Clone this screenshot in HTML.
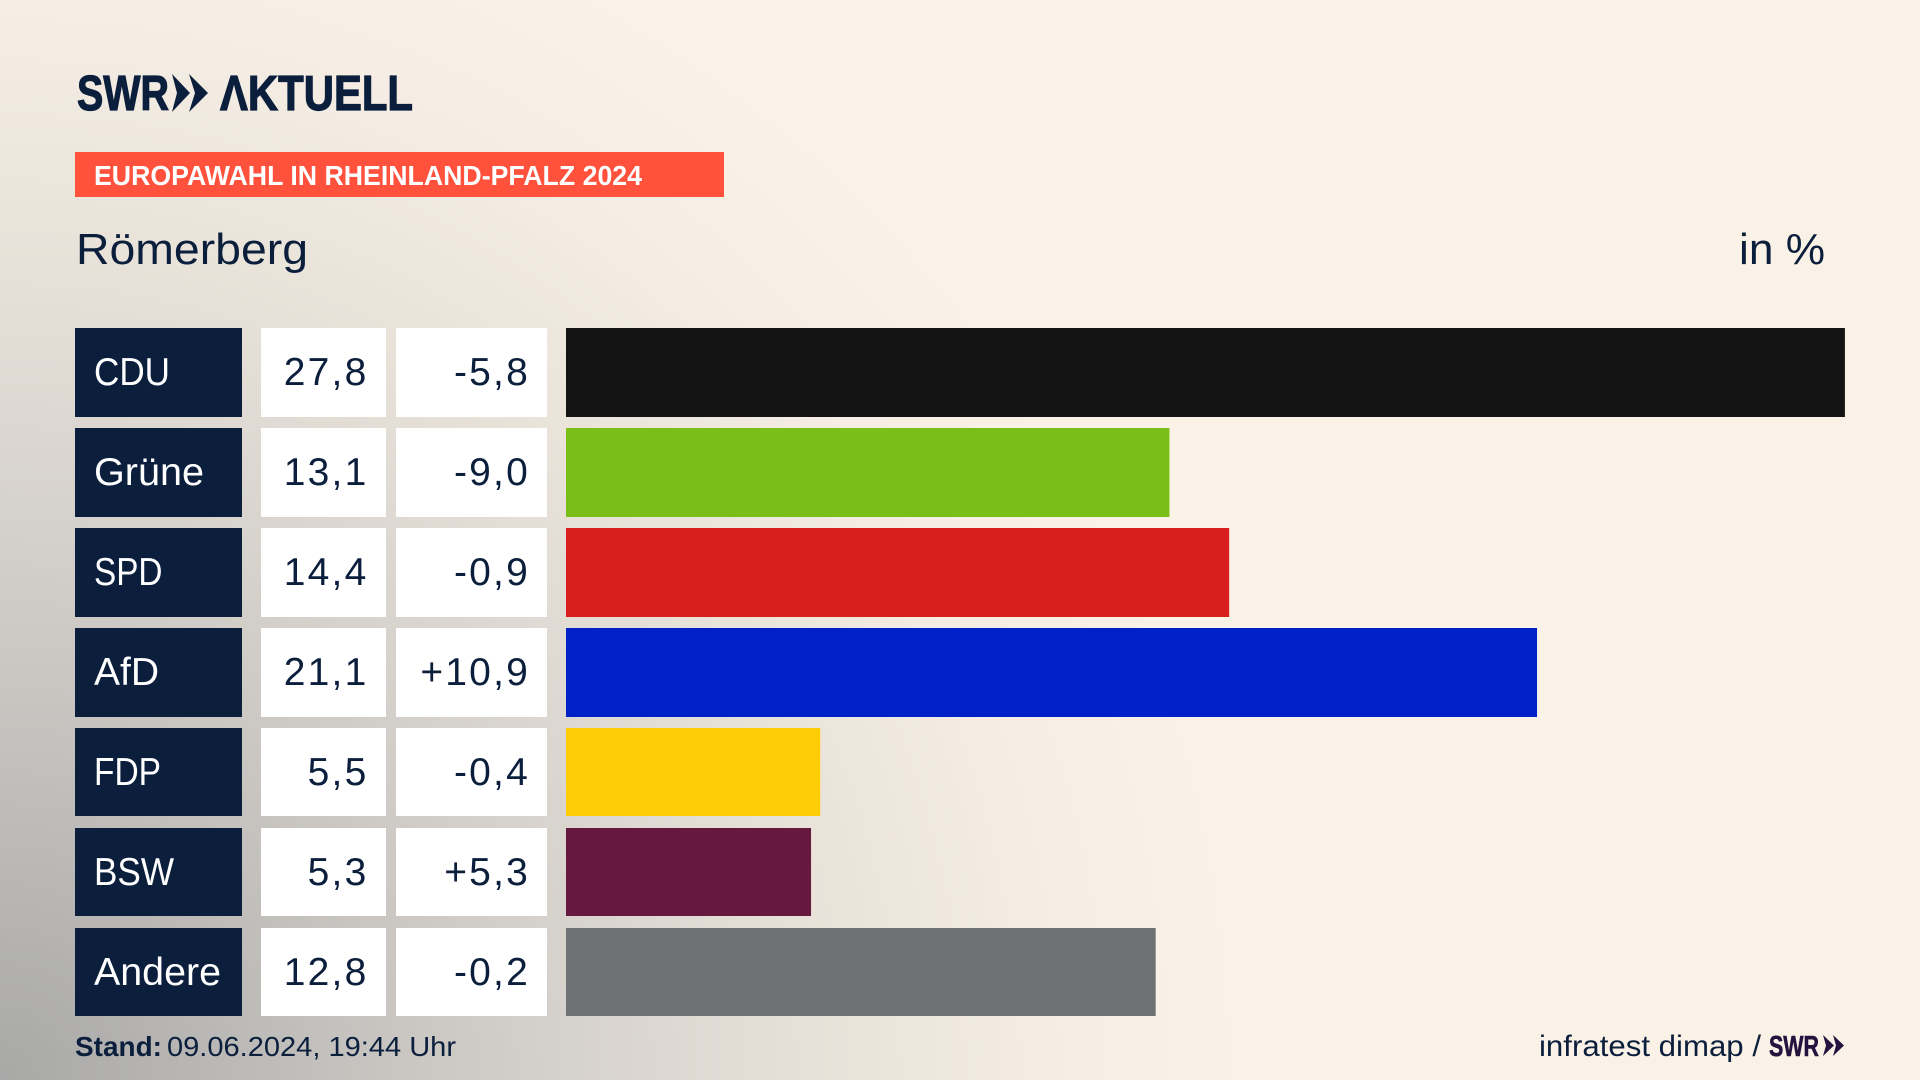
<!DOCTYPE html>
<html lang="de">
<head>
<meta charset="utf-8">
<title>Europawahl in Rheinland-Pfalz 2024 – Römerberg</title>
<style>
html,body{margin:0;padding:0;width:1920px;height:1080px;overflow:hidden;background:#fbf2e7}
#stage{position:relative;width:1920px;height:1080px;background:radial-gradient(circle 1250px at 0 1080px,#a8a8a7 0,#c9c6c2 400px,#dfdad3 700px,#e9e3da 850px,#f5ede3 1050px,#fbf2e7 1250px)}
svg{position:absolute;left:0;top:0}
text{font-family:"Liberation Sans",sans-serif;fill:#0b1f3d}
</style>
</head>
<body>
<div id="stage">
<svg id="chart" width="1920" height="1080" viewBox="0 0 1920 1080">
  <g>
    <text x="77" y="110" font-size="49" font-weight="700" stroke="#0b1f3d" stroke-width="1.2" textLength="92" lengthAdjust="spacingAndGlyphs">SWR</text>
    <polygon points="172,74 190,93 172,112 177,93" fill="#0b1f3d"/>
    <polygon points="189,74 208,93 189,112 195,93" fill="#0b1f3d"/>
    <text x="220" y="110" font-size="49" font-weight="700" stroke="#0b1f3d" stroke-width="1.2" textLength="193" lengthAdjust="spacingAndGlyphs">ΛKTUELL</text>
  </g>
  <rect x="75" y="152" width="649" height="45" fill="#ff513c"/>
  <text x="94" y="185" font-size="28" font-weight="700" style="fill:#fff" textLength="548" lengthAdjust="spacingAndGlyphs">EUROPAWAHL IN RHEINLAND-PFALZ 2024</text>
  <text x="76" y="264" font-size="44" textLength="232" lengthAdjust="spacingAndGlyphs">Römerberg</text>
  <text x="1739" y="264" font-size="44" textLength="86" lengthAdjust="spacingAndGlyphs">in %</text>
  <g id="rows"></g>
  <text x="75" y="1056" font-size="28" font-weight="700" textLength="87" lengthAdjust="spacingAndGlyphs">Stand:</text>
  <text x="167" y="1056" font-size="28" textLength="289" lengthAdjust="spacingAndGlyphs">09.06.2024, 19:44 Uhr</text>
  <text x="1539" y="1056" font-size="30" textLength="222" lengthAdjust="spacingAndGlyphs">infratest dimap /</text>
  <g>
    <text x="1769" y="1056" font-size="29" font-weight="700" stroke="#24123f" stroke-width="0.6" style="fill:#24123f" textLength="50" lengthAdjust="spacingAndGlyphs">SWR</text>
    <polygon points="1823,1035 1834,1045.5 1823,1056 1826,1045.5" fill="#24123f"/>
    <polygon points="1833,1035 1844,1045.5 1833,1056 1836,1045.5" fill="#24123f"/>
  </g>
</svg>
</div>
<script>
const parties = ["CDU", "Grüne", "SPD", "AfD", "FDP", "BSW", "Andere"];
const shares = [27.8, 13.1, 14.4, 21.1, 5.5, 5.3, 12.8];
const changes = [-5.8, -9.0, -0.9, 10.9, -0.4, 5.3, -0.2];

const partyColor = {
  "CDU": "#141414", "Grüne": "#7abe18", "SPD": "#d81f1e", "AfD": "#0021c8",
  "FDP": "#ffcc08", "BSW": "#66183f", "Andere": "#707173"
};
const labelFit = { "CDU": 76, "Grüne": 110, "SPD": 68.5, "AfD": 65, "FDP": 67, "BSW": 80, "Andere": 127 };
const NS = "http://www.w3.org/2000/svg";
const rowsGroup = document.getElementById("rows");

const barStart = 566;
function xScale(v) { return 567.5 + v * 45.95; }
function yScale(i) { return 328 + i * 100; }
function rowHeight(i) { return i < 4 ? 89 : 88; }

function fmtShare(v) { return v.toFixed(1).replace(".", ","); }
function fmtChange(v) { return (v > 0 ? "+" : (v < 0 ? "-" : "")) + Math.abs(v).toFixed(1).replace(".", ","); }
function slug(s) { return s.toLowerCase().replace("ü", "ue"); }

function makeRect(x, y, w, h, fill) {
  const r = document.createElementNS(NS, "rect");
  r.setAttribute("x", x);
  r.setAttribute("y", y);
  r.setAttribute("width", w);
  r.setAttribute("height", h);
  r.setAttribute("fill", fill);
  return r;
}
function makeText(x, y, str, anchor, color, spacing) {
  const t = document.createElementNS(NS, "text");
  t.setAttribute("x", x);
  t.setAttribute("y", y);
  t.setAttribute("font-size", "39");
  t.setAttribute("text-anchor", anchor);
  t.style.fill = color;
  t.style.letterSpacing = spacing;
  t.textContent = str;
  return t;
}

parties.forEach(function (party, i) {
  const top = yScale(i);
  const h = rowHeight(i);
  const base = top + 57;
  const key = slug(party);

  const labelBox = makeRect(75, top, 167, h, "#0b1f3d");
  
  
  rowsGroup.appendChild(labelBox);

  const labelText = makeText(94, base, party, "start", "#ffffff", "0");
  labelText.setAttribute("textLength", labelFit[party]);
  labelText.setAttribute("lengthAdjust", "spacingAndGlyphs");
  
  
  rowsGroup.appendChild(labelText);

  const shareBox = makeRect(261, top, 125, h, "#ffffff");
  
  
  rowsGroup.appendChild(shareBox);

  const shareText = makeText(368.5, base, fmtShare(shares[i]), "end", "#0b1f3d", "2.2px");
  
  
  rowsGroup.appendChild(shareText);

  const changeBox = makeRect(396, top, 151, h, "#ffffff");
  
  
  rowsGroup.appendChild(changeBox);

  const changeText = makeText(530, base, fmtChange(changes[i]), "end", "#0b1f3d", "2.2px");
  
  
  rowsGroup.appendChild(changeText);

  const bar = makeRect(barStart, top, xScale(shares[i]) - barStart, h, partyColor[party]);
  
  
  rowsGroup.appendChild(bar);
});
</script>
</body>
</html>
